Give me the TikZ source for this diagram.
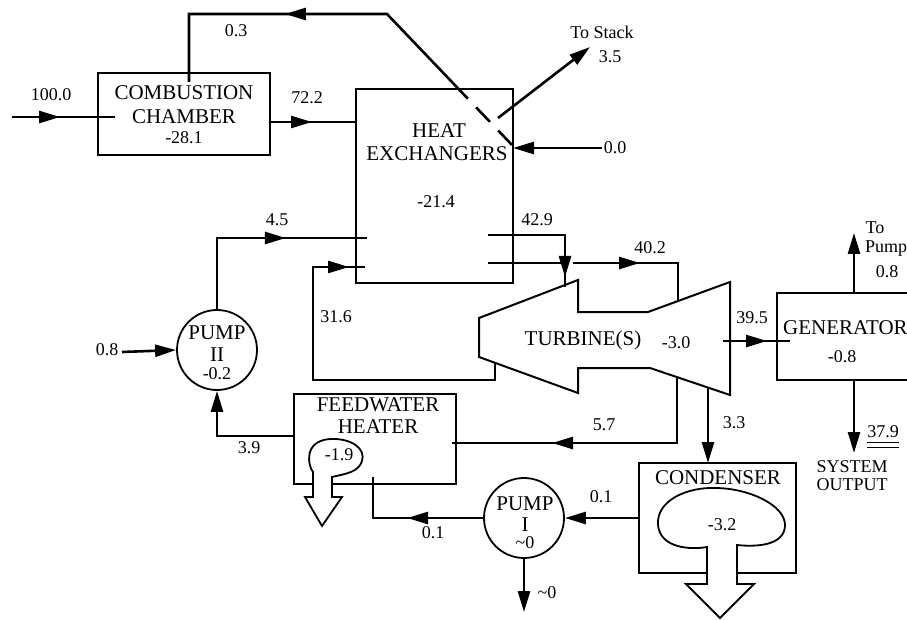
\documentclass[tikz,border=0pt]{standalone}
\usepackage{fontspec}
\setmainfont{Liberation Serif}
\usetikzlibrary{arrows.meta,decorations.markings}
\begin{document}
\begin{tikzpicture}[x=1pt,y=-1pt,
  tri/.tip={Triangle[length=21pt,width=12pt]},
  conn/.style={line width=2.6pt},
  endarrow/.style={conn,-{tri}},
  midarrow/.style={postaction={decorate,decoration={markings,mark=at position #1 with {\arrow{tri}}}}},
  box/.style={draw,line width=1.8pt,rectangle,inner sep=0pt},
  pumpc/.style={draw,line width=1.8pt,circle,minimum size=80pt,inner sep=0pt},
  big/.style={font=\fontsize{21}{22}\selectfont,inner sep=0pt},
  num/.style={font=\fontsize{18}{20}\selectfont,inner sep=0pt},
  outline/.style={line width=1.8pt},
]
\useasboundingbox (0,0) rectangle (907,620);
\clip (0,0) rectangle (907,620);

% ---------- boxes ----------
\node[box,minimum width=172pt,minimum height=82pt] (cc) at (184,114) {};
\node[box,minimum width=157pt,minimum height=194pt] (hx) at (434.5,186) {};
\node[box,minimum width=162pt,minimum height=90pt] (fwh) at (375,439) {};
\node[box,minimum width=157pt,minimum height=110pt] (cond) at (717.5,518) {};
\node[pumpc] (p2) at (217,350) {};
\node[pumpc] (p1) at (524,518) {};

% generator (open on the right)
\coordinate (gTR) at (930,293);
\coordinate (gTL) at (777,293);
\coordinate (gBL) at (777,380);
\coordinate (gBR) at (930,380);
\draw[outline] (gTR) -- (gTL) -- (gBL) -- (gBR);

% turbine
\coordinate (t1) at (479,318);
\coordinate (t2) at (578,280);
\coordinate (t3) at (578,312);
\coordinate (t4) at (648,312);
\coordinate (t5) at (730,282);
\coordinate (t6) at (730,395);
\coordinate (t7) at (650,368);
\coordinate (t8) at (578,368);
\coordinate (t9) at (578,393);
\coordinate (t10) at (479,357);
\draw[line width=2pt] (t1) -- (t2) -- (t3) -- (t4) -- (t5) -- (t6) -- (t7) -- (t8) -- (t9) -- (t10) -- cycle;

% ---------- loss blobs ----------
\draw[outline,fill=white] (686,584) -- (707,584) -- (707,547)
  .. controls (690,550) and (660,548) .. (658,525)
  .. controls (656,500) and (688,487) .. (715,488)
  .. controls (748,488) and (786,505) .. (785,526)
  .. controls (784,546) and (755,547) .. (737,545)
  -- (737,584) -- (754,584) -- (720,618) -- cycle;
\draw[outline,fill=white] (305,497) -- (313,497) -- (313,472)
  .. controls (308,466) and (303,441) .. (330,439)
  .. controls (352,438) and (366,449) .. (362,461)
  .. controls (359,472) and (345,474) .. (332,477)
  -- (332,497) -- (342,497) -- (322,526) -- cycle;

% ---------- coordinates for connectors ----------
\coordinate (in100) at (12,117);
\coordinate (ccin) at (115,117);
\coordinate (ccout) at (270,122);
\coordinate (hxin) at (357,122);
\coordinate (hxd) at (512,145);
\coordinate (hxt) at (458.6,89);
\coordinate (c1) at (387,14);
\coordinate (c2) at (189,14);
\coordinate (cctop) at (189,82);
\coordinate (stk0) at (498,118);
\coordinate (stk1) at (590,47);
\coordinate (z0) at (602,148);
\coordinate (z1) at (513,148);
\coordinate (a45) at (217,238);
\coordinate (b45) at (367,238);
\coordinate (r0) at (495,363);
\coordinate (r1) at (495,380);
\coordinate (r2) at (313,380);
\coordinate (r3) at (313,267);
\coordinate (r4) at (365,267);
\coordinate (s0) at (488,235);
\coordinate (s1) at (565,235);
\coordinate (s2) at (565,287);
\coordinate (h0) at (488,263);
\coordinate (h1) at (565,263);
\coordinate (h2) at (573,263);
\coordinate (h3) at (678,263);
\coordinate (h4) at (678,302);
\coordinate (w0) at (723,341);
\coordinate (w1) at (790,341);
\coordinate (tp0) at (854,293);
\coordinate (tp1) at (854,233);
\coordinate (so0) at (854,380);
\coordinate (so1) at (854,453);
\coordinate (f0) at (677,377);
\coordinate (f1) at (677,443);
\coordinate (f2) at (452,443);
\coordinate (k0) at (708,388);
\coordinate (k1) at (708,463);
\coordinate (q0) at (639,518);
\coordinate (m1) at (373,518);
\coordinate (m2) at (373,477);
\coordinate (e0) at (294,436);
\coordinate (e1) at (217,436);
\coordinate (g0) at (122,352);
\coordinate (v0) at (524,612);
\coordinate (ul1a) at (867,442);
\coordinate (ul1b) at (899,442);
\coordinate (ul2a) at (867,447);
\coordinate (ul2b) at (899,447);

% ---------- connectors ----------
\draw[conn,midarrow=48pt] (in100) -- (ccin);
\draw[conn,midarrow=42pt] (ccout) -- (hxin);
\draw[conn,dash pattern=on 20pt off 12pt] (hxd) -- (hxt);
\draw[conn,midarrow=205.7pt] (hxt) -- (c1) -- (c2) -- (cctop);
\draw[endarrow] (stk0) -- (stk1);
\draw[endarrow] (z0) -- (z1);
\draw[conn,midarrow=140pt] (p2.north) -- (a45) -- (b45);
\draw[conn,midarrow=348pt] (r0) -- (r1) -- (r2) -- (r3) -- (r4);
\draw[conn,midarrow=119pt] (s0) -- (s1) -- (s2);
\draw[conn] (h0) -- (h1);
\draw[conn,midarrow=67pt] (h2) -- (h3) -- (h4);
\draw[conn,midarrow=44pt] (w0) -- (w1);
\draw[endarrow] (tp0) -- (tp1);
\draw[endarrow] (so0) -- (so1);
\draw[conn,midarrow=191pt] (f0) -- (f1) -- (f2);
\draw[endarrow] (k0) -- (k1);
\draw[endarrow] (q0) -- (p1.east);
\draw[conn,midarrow=76pt] (p1.west) -- (m1) -- (m2);
\draw[endarrow] (p1.south) -- (v0);
\draw[endarrow] (e0) -- (e1) -- (p2.south);
\draw[endarrow] (g0) -- (p2.west);

% ---------- texts ----------
\node[big] (tcc1) at (184,93) {COMBUSTION};
\node[big] (tcc2) at (184,117) {CHAMBER};
\node[num] (tcc3) at (184,138) {-28.1};
\node[big] (thx1) at (439,131) {HEAT};
\node[big] (thx2) at (437,154) {EXCHANGERS};
\node[num] (thx3) at (436,202) {-21.4};
\node[big] (ttu1) at (583,340) {TURBINE(S)};
\node[num] (ttu2) at (676,343) {-3.0};
\node[big,anchor=west] (tge1) at (783,328) {GENERATOR};
\node[num] (tge2) at (842,357) {-0.8};
\node[big] (tfw1) at (378,405) {FEEDWATER};
\node[big] (tfw2) at (378,427) {HEATER};
\node[num] (tfw3) at (339,455) {-1.9};
\node[big] (tco1) at (718,478) {CONDENSER};
\node[num] (tco2) at (722,525) {-3.2};
\node[big] (tp21) at (217,333) {PUMP};
\node[big] (tp22) at (217,355) {II};
\node[num] (tp23) at (217,374) {-0.2};
\node[big] (tp11) at (525,504) {PUMP};
\node[big] (tp12) at (525,525) {I};
\node[num] (tp13) at (525,543) {\textasciitilde0};

\node[num] (l100) at (51,95) {100.0};
\node[num] (l722) at (307,98) {72.2};
\node[num] (l03) at (236,31) {0.3};
\node[num] (lstk) at (602,32) {To Stack};
\node[num] (l35) at (610,57) {3.5};
\node[num] (l00) at (615,148) {0.0};
\node[num] (l45) at (277,220) {4.5};
\node[num] (l316) at (336,317) {31.6};
\node[num] (l429) at (537,220) {42.9};
\node[num] (l402) at (650,248) {40.2};
\node[num] (l395) at (752,318) {39.5};
\node[num] (lto) at (875,228) {To};
\node[num,anchor=base west] (lpump) at (865,253) {Pump};
\node[num] (l08a) at (887,272) {0.8};
\node[num] (l379) at (883,432) {37.9};
\draw[line width=1pt] (ul1a) -- (ul1b);
\draw[line width=1pt] (ul2a) -- (ul2b);
\node[num] (lsys1) at (852,467) {SYSTEM};
\node[num] (lsys2) at (852,485) {OUTPUT};
\node[num] (l08b) at (107,350) {0.8};
\node[num] (l39) at (249,448) {3.9};
\node[num] (l57) at (604,425) {5.7};
\node[num] (l33) at (734,423) {3.3};
\node[num] (l01a) at (601,497) {0.1};
\node[num] (l01b) at (433,533) {0.1};
\node[num] (l0) at (547,593) {\textasciitilde0};
\end{tikzpicture}
\end{document}
